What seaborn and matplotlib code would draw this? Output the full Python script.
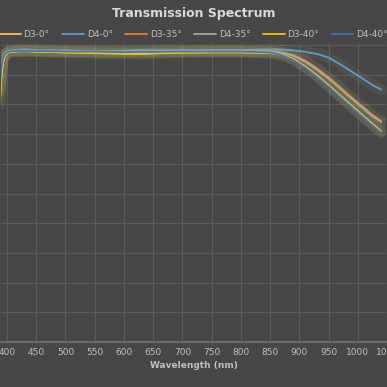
import pandas as pd
import matplotlib.pyplot as plt
import matplotlib.patheffects as pe
import seaborn as sns

wavelength = [388, 390, 393, 397, 402, 410, 430, 450, 500, 550, 600, 625, 650, 700,
              750, 800, 850, 870, 890, 910, 930, 950, 970, 990, 1010, 1025, 1040]

d3_0 = [80, 88, 94, 96.5, 97.5, 97.8, 98, 97.8, 97.5, 97.3, 97.1, 97.0, 97.2, 97.5,
        97.6, 97.6, 97.4, 96.8, 95.3, 92.8, 89.8, 86.5, 83, 79.5, 76, 73.5, 71]
d4_0 = [88, 93, 96, 97.5, 98, 98.3, 98.5, 98.3, 98.2, 98, 98, 98.3, 98.2, 98.3,
        98.3, 98.3, 98.5, 98.5, 98.2, 97.7, 97, 95.8, 93.5, 91, 88.5, 86.5, 85]
d3_35 = [84, 90, 95, 97, 97.6, 97.9, 98, 98, 97.8, 97.7, 97.6, 97.6, 97.7, 97.8,
         97.9, 97.9, 97.8, 97.5, 96.6, 94.8, 92.2, 89.2, 85.8, 82.3, 79, 76.5, 74.5]
d4_35 = [85, 91, 95.3, 97.2, 97.8, 98, 98.1, 98.1, 97.9, 97.8, 97.8, 97.8, 97.9, 98,
         98, 98, 97.9, 97.4, 96.3, 94.4, 91.7, 88.7, 85.3, 81.8, 78.5, 76, 74]
d3_40 = [82, 89, 94.5, 96.7, 97.5, 97.8, 97.9, 97.8, 97.5, 97.3, 97.1, 97, 97.2, 97.4,
         97.5, 97.5, 97.3, 96.7, 95.2, 92.7, 89.6, 86.3, 82.8, 79.3, 75.8, 73.3, 70.8]
d4_40 = [86, 92, 95.5, 97, 97.7, 98, 98, 98, 97.8, 97.8, 97.6, 97.7, 97.7, 97.8,
         97.8, 97.8, 97.5, 96.6, 94.9, 92.4, 89.3, 86, 82.5, 79, 75.5, 73, 70.5]

series_names = ["D3-0°", "D4-0°", "D3-35°", "D4-35°", "D3-40°", "D4-40°"]
series_values = [d3_0, d4_0, d3_35, d4_35, d3_40, d4_40]
colors = ["#F2C94C", "#5B9BD5", "#ED7D31", "#A5A5A5", "#FFC000", "#4472C4"]
x_ticks = list(range(400, 1051, 50))

rows = []
for name, vals in zip(series_names, series_values):
    for w, v in zip(wavelength, vals):
        rows.append({"wavelength": w, "transmission": v, "series": name})
df = pd.DataFrame(rows)

bg = "#474747"
sns.set_theme(style="darkgrid", rc={
    "axes.facecolor": bg, "figure.facecolor": bg, "grid.color": "#5c5c5c",
    "grid.linewidth": 0.8, "axes.edgecolor": bg,
})
plt.rcParams["font.family"] = ["DejaVu Sans"]

fig = plt.figure(figsize=(3.87, 3.87), dpi=100)
ax = fig.add_axes([0.0, 0.1163, 1.0, 0.775])
sns.lineplot(data=df, x="wavelength", y="transmission", hue="series",
             hue_order=series_names, palette=colors, estimator=None, sort=False,
             linewidth=1.3, ax=ax, legend=True)

# legend first, so the handles don't pick up the glow
handles, labels = ax.get_legend_handles_labels()
ax.legend(handles, labels, ncol=6, loc="center", bbox_to_anchor=(0.5, 1.025),
          frameon=False, fontsize=6.5, labelcolor="#bfbfbf", handlelength=2.4,
          handletextpad=0.3, columnspacing=1.4, borderpad=0)

for line in ax.lines:
    line.set_path_effects([pe.Stroke(linewidth=8, foreground="#c8c870", alpha=0.07),
                           pe.Normal()])

ax.set_xlim(388, 1040)
ax.set_ylim(0, 101)
ax.set_xticks(x_ticks)
ax.set_yticks(range(0, 101, 10))
ax.set_yticklabels([])
ax.tick_params(axis="x", colors="#bfbfbf", labelsize=6.5, length=0, pad=4)
ax.tick_params(axis="y", length=0)
ax.spines["bottom"].set_visible(True)
ax.spines["bottom"].set_color("#707070")
ax.set_xlabel("Wavelength (nm)", color="#bfbfbf", fontsize=6.5, fontweight="bold", labelpad=3)
ax.set_ylabel("")

fig.text(0.5, 0.966, "Transmission Spectrum", ha="center", va="center",
         color="#d9d9d9", fontsize=9, fontweight="bold")

fig.savefig("out.png", dpi=100, facecolor=bg)
